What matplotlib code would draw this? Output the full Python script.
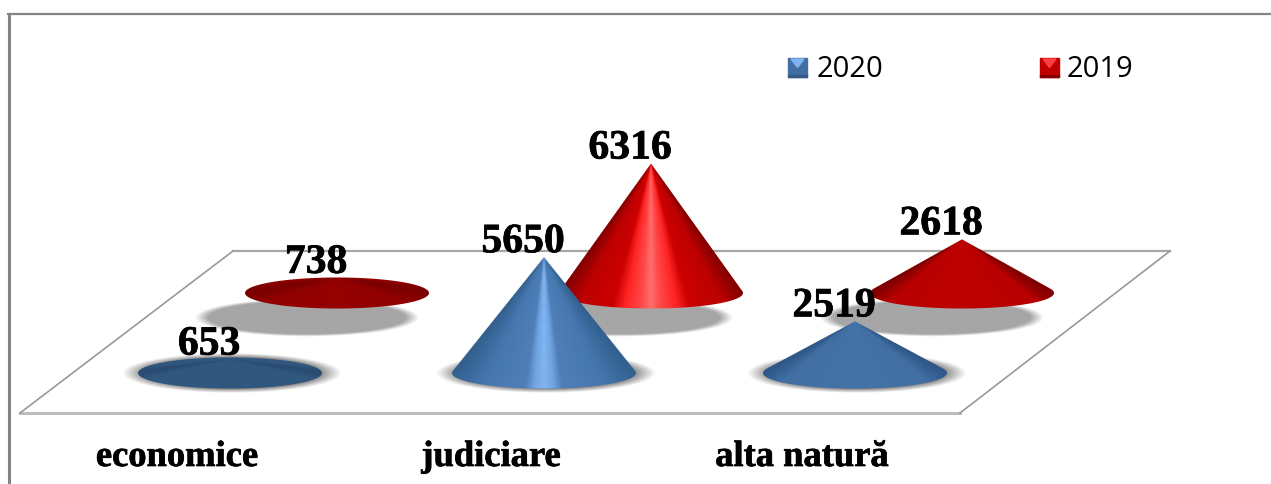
import numpy as np
import matplotlib
matplotlib.use('Agg')
import matplotlib.pyplot as plt
import matplotlib.patheffects as pe
from matplotlib.patches import Polygon
from matplotlib.colors import LinearSegmentedColormap, to_rgb

categories = ['economice', 'judiciare', 'alta natură']
years = ['2020', '2019']
values_2020 = [653, 5650, 2519]
values_2019 = [738, 6316, 2618]

# cone shading, centre of the cone -> silhouette edge
blue_ramps = {
    'flat': [(0, '#31577F'), (0.93, '#31577F'), (1, '#2A4C72')],
    'low': [(0, '#4473A8'), (0.8, '#416FA3'), (1, '#2F5888')],
    'tall': [(0, '#80B5F2'), (0.1, '#70A5E2'), (0.2, '#507FB8'), (0.65, '#4576AE'), (1, '#32608F')],
}
red_ramps = {
    'flat': [(0, '#960000'), (0.8, '#900000'), (1, '#7C0000')],
    'low': [(0, '#BE0000'), (0.8, '#B80000'), (1, '#800000')],
    'tall': [(0, '#FF6E6E'), (0.1, '#FF4A4A'), (0.28, '#FF2424'), (0.42, '#CC0000'), (0.78, '#BC0000'), (1, '#840000')],
}

# pixel layout of the fake 3d floor
slot_x = [230, 544, 855]
front_y = 374
back_dx, back_dy = 107, -80
px_per_unit = 0.0205
rx, ry = 92, 15.5

label_effect = [pe.withStroke(linewidth=0.5, foreground='black')]


def draw_shadow(ax, cx, cy, srx, sry, color, blur, peak, z):
    # soft ellipse, drawn as an rgba image
    xs = np.linspace(cx - srx * 1.3, cx + srx * 1.3, 300)
    ys = np.linspace(cy - sry * 1.6, cy + sry * 1.6, 120)
    xx, yy = np.meshgrid(xs, ys)
    r = np.sqrt(((xx - cx) / srx) ** 2 + ((yy - cy) / sry) ** 2)
    img = np.zeros(xx.shape + (4,))
    img[..., :3] = to_rgb(color)
    img[..., 3] = np.clip((1 - r) / blur, 0, 1) * peak
    ax.imshow(img, extent=(xs[0], xs[-1], ys[-1], ys[0]), aspect='auto',
              interpolation='bilinear', zorder=z)


def draw_cone(ax, cx, cy, value, ramps, z):
    height = value * px_per_unit
    kind = 'flat' if value < 1000 else 'low' if value < 4000 else 'tall'
    cmap = LinearSegmentedColormap.from_list('r', ramps[kind])

    # follow the ray apex -> pixel down to the front rim, shade by where it lands
    xs = np.linspace(-rx - 2, rx + 2, 400)
    ys = np.linspace(-max(height, ry) - 2, ry + 2, 300)
    dx, dy = np.meshgrid(xs, ys)
    a = (dx / rx) ** 2 + ((dy + height) / ry) ** 2 + 1e-9
    b = -2 * height * (dy + height) / ry ** 2
    c = height ** 2 / ry ** 2 - 1
    s = (-b + np.sqrt(np.clip(b ** 2 - 4 * a * c, 0, None))) / (2 * a)
    t = np.clip(np.abs(s * dx) / rx, 0, 1)
    im = ax.imshow(cmap(t), extent=(cx + xs[0], cx + xs[-1], cy + ys[-1], cy + ys[0]), aspect='auto',
                   interpolation='bilinear', zorder=z)

    # outline: rim up to the tangent points, then the apex
    if height > ry:
        start = np.arcsin(-ry / height)
        th = np.linspace(start, np.pi - start, 200)
        outline = [(cx + rx * np.cos(q), cy + ry * np.sin(q)) for q in th] + [(cx, cy - height)]
    else:
        th = np.linspace(0, 2 * np.pi, 300)
        outline = [(cx + rx * np.cos(q), cy + ry * np.sin(q)) for q in th]
    im.set_clip_path(Polygon(outline, transform=ax.transData))


def legend_box(ax, x, y, size, base, light, dark):
    ax.fill([x, x + size, x + size, x], [y, y, y + size, y + size], color=base, zorder=5)
    ax.fill([x + 3, x + size - 3, x + size / 2], [y + 1, y + 1, y + size * 0.5], color=light, zorder=6)
    ax.fill([x, x + size, x + size, x], [y + size - 2, y + size - 2, y + size, y + size], color=dark, zorder=6)


fig = plt.figure(figsize=(12.71, 4.85), dpi=100)
ax = fig.add_axes([0, 0, 1, 1])

# outer chart border, cut off by the crop
ax.plot([8.5, 8.5], [485, 15], color='#848484', lw=2.2, solid_capstyle='butt')
ax.plot([7, 1271], [15, 15], color='#848484', lw=1.6, solid_capstyle='butt')

# floor
ax.plot([233, 1170], [252, 252], color='#A6A6A6', lw=1.6, zorder=1)
ax.plot([20, 960], [414, 414], color='#BDBDBD', lw=2.2, zorder=1)
ax.plot([20, 233], [414, 252], color='#999999', lw=1.2, zorder=1)
ax.plot([960, 1170], [414, 252], color='#999999', lw=1.2, zorder=1)

# back row
for i, v in enumerate(values_2019):
    cx = slot_x[i] + back_dx
    cy = front_y + back_dy
    draw_shadow(ax, cx - 30, cy + 25, 112, 19, '#A6A6A6', 0.12, 1.0, 2)
    draw_cone(ax, cx, cy, v, red_ramps, 3)
    ax.text(cx - 21, cy - v * px_per_unit - 5, str(v), family='Liberation Serif', weight='bold',
            fontsize=30, ha='center', va='baseline', color='black', zorder=8, path_effects=label_effect)

# front row
for i, v in enumerate(values_2020):
    cx = slot_x[i]
    draw_shadow(ax, cx + 2, front_y, 110, 20, '#4F4F4F', 0.3, 1.0, 4)
    draw_cone(ax, cx, front_y, v, blue_ramps, 5)
    ax.text(cx - 21, front_y - v * px_per_unit - 5, str(v), family='Liberation Serif', weight='bold',
            fontsize=30, ha='center', va='baseline', color='black', zorder=8, path_effects=label_effect)

for i, c in enumerate(categories):
    ax.text(slot_x[i] - 53, 467, c, family='Liberation Serif', weight='bold', fontsize=26.3,
            ha='center', va='baseline', color='black', path_effects=label_effect)

# legend
legend_box(ax, 788, 59, 19, '#416FA3', '#7FB4F0', '#355A86')
legend_box(ax, 1040, 59, 19, '#C00000', '#FF4040', '#8A0000')
ax.text(817, 77, years[0], family='Open Sans', fontsize=21, va='baseline', color='black')
ax.text(1067, 77, years[1], family='Open Sans', fontsize=21, va='baseline', color='black')

ax.set_xlim(0, 1271)
ax.set_ylim(485, 0)
ax.axis('off')

plt.savefig('out.png', dpi=100)
